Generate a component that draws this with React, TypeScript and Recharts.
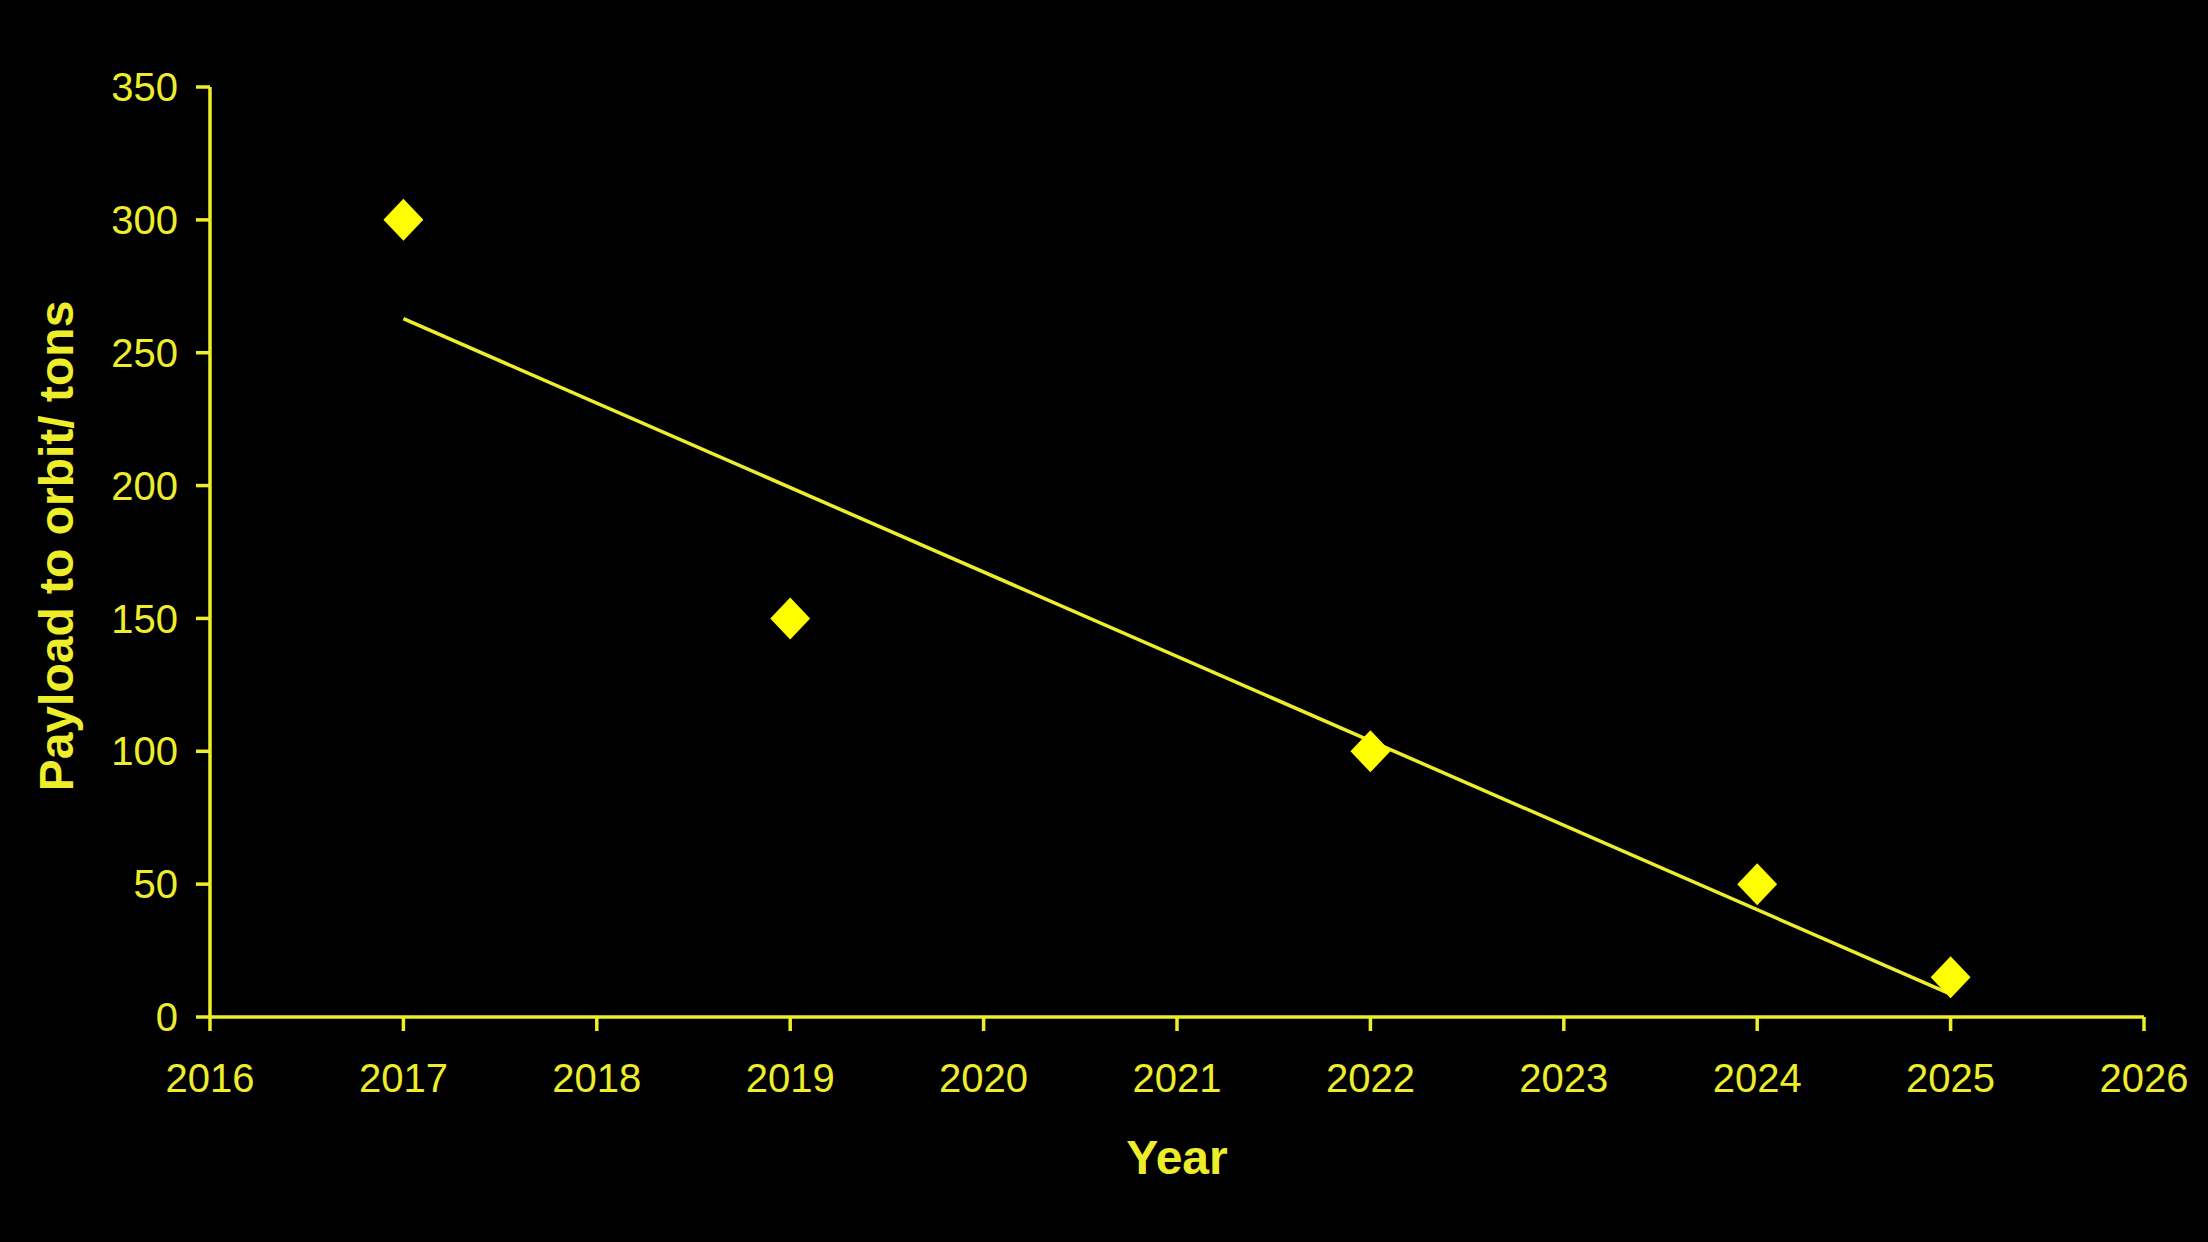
import React from "react";
import { ScatterChart, Scatter, XAxis, YAxis, Label } from "recharts";

const years = [2017, 2019, 2022, 2024, 2025];
const payloads = [300, 150, 100, 50, 15];
const trendYears = [2017, 2025];
const trendValues = [262.8, 8.6];
const xTicks = [2016, 2017, 2018, 2019, 2020, 2021, 2022, 2023, 2024, 2025, 2026];
const yTicks = [0, 50, 100, 150, 200, 250, 300, 350];

const pointData = years.map((y, i) => ({ x: y, y: payloads[i] }));
const trendData = trendYears.map((y, i) => ({ x: y, y: trendValues[i] }));

const TEXT = "#EDED2A";
const MARK = "#FFFF00";
const FONT = "'Liberation Sans', Arial, sans-serif";

const Diamond = (props: any) => {
  const { cx, cy } = props;
  const r = 21;
  return (
    <polygon
      points={`${cx},${cy - r} ${cx + r * 0.95},${cy} ${cx},${cy + r} ${cx - r * 0.95},${cy}`}
      fill={MARK}
    />
  );
};

const YLabel = (props: any) => {
  const vb = props.viewBox || {};
  const cx = vb.x + 56;
  const cy = vb.y + vb.height / 2 - 6;
  return (
    <text
      x={cx}
      y={cy}
      transform={`rotate(-90, ${cx}, ${cy})`}
      textAnchor="middle"
      dominantBaseline="central"
      fill={TEXT}
      fontFamily={FONT}
      fontWeight="bold"
      fontSize={48}
    >
      Payload to orbit/ tons
    </text>
  );
};

const XLabel = (props: any) => {
  const vb = props.viewBox || {};
  const cx = vb.x + vb.width / 2;
  const cy = vb.y + 157;
  return (
    <text
      x={cx}
      y={cy}
      textAnchor="middle"
      fill={TEXT}
      fontFamily={FONT}
      fontWeight="bold"
      fontSize={48}
    >
      Year
    </text>
  );
};

export default function App() {
  return (
    <div
      style={{
        position: "fixed",
        left: 0,
        top: 0,
        width: 2208,
        height: 1242,
        background: "#000000",
      }}
    >
      <ScatterChart
        width={2208}
        height={1242}
        margin={{ top: 87, right: 64, left: 0, bottom: 0 }}
      >
        <XAxis
          type="number"
          dataKey="x"
          domain={[2016, 2026]}
          ticks={xTicks}
          allowDecimals={false}
          height={225}
          axisLine={{ stroke: TEXT, strokeWidth: 3.5 }}
          tickLine={{ stroke: TEXT, strokeWidth: 3.5 }}
          tickSize={14}
          tickMargin={33}
          tick={{ fill: TEXT, fontSize: 40, fontFamily: FONT }}
        >
          <Label content={<XLabel />} />
        </XAxis>
        <YAxis
          type="number"
          dataKey="y"
          domain={[0, 350]}
          ticks={yTicks}
          width={210}
          axisLine={{ stroke: TEXT, strokeWidth: 3.5 }}
          tickLine={{ stroke: TEXT, strokeWidth: 3.5 }}
          tickSize={14}
          tickMargin={18}
          tick={{ fill: TEXT, fontSize: 40, fontFamily: FONT }}
        >
          <Label content={<YLabel />} />
        </YAxis>
        <Scatter
          data={trendData}
          line={{ stroke: TEXT, strokeWidth: 3.5 }}
          shape={() => null}
          isAnimationActive={false}
        />
        <Scatter
          data={pointData}
          shape={<Diamond />}
          isAnimationActive={false}
        />
      </ScatterChart>
    </div>
  );
}
